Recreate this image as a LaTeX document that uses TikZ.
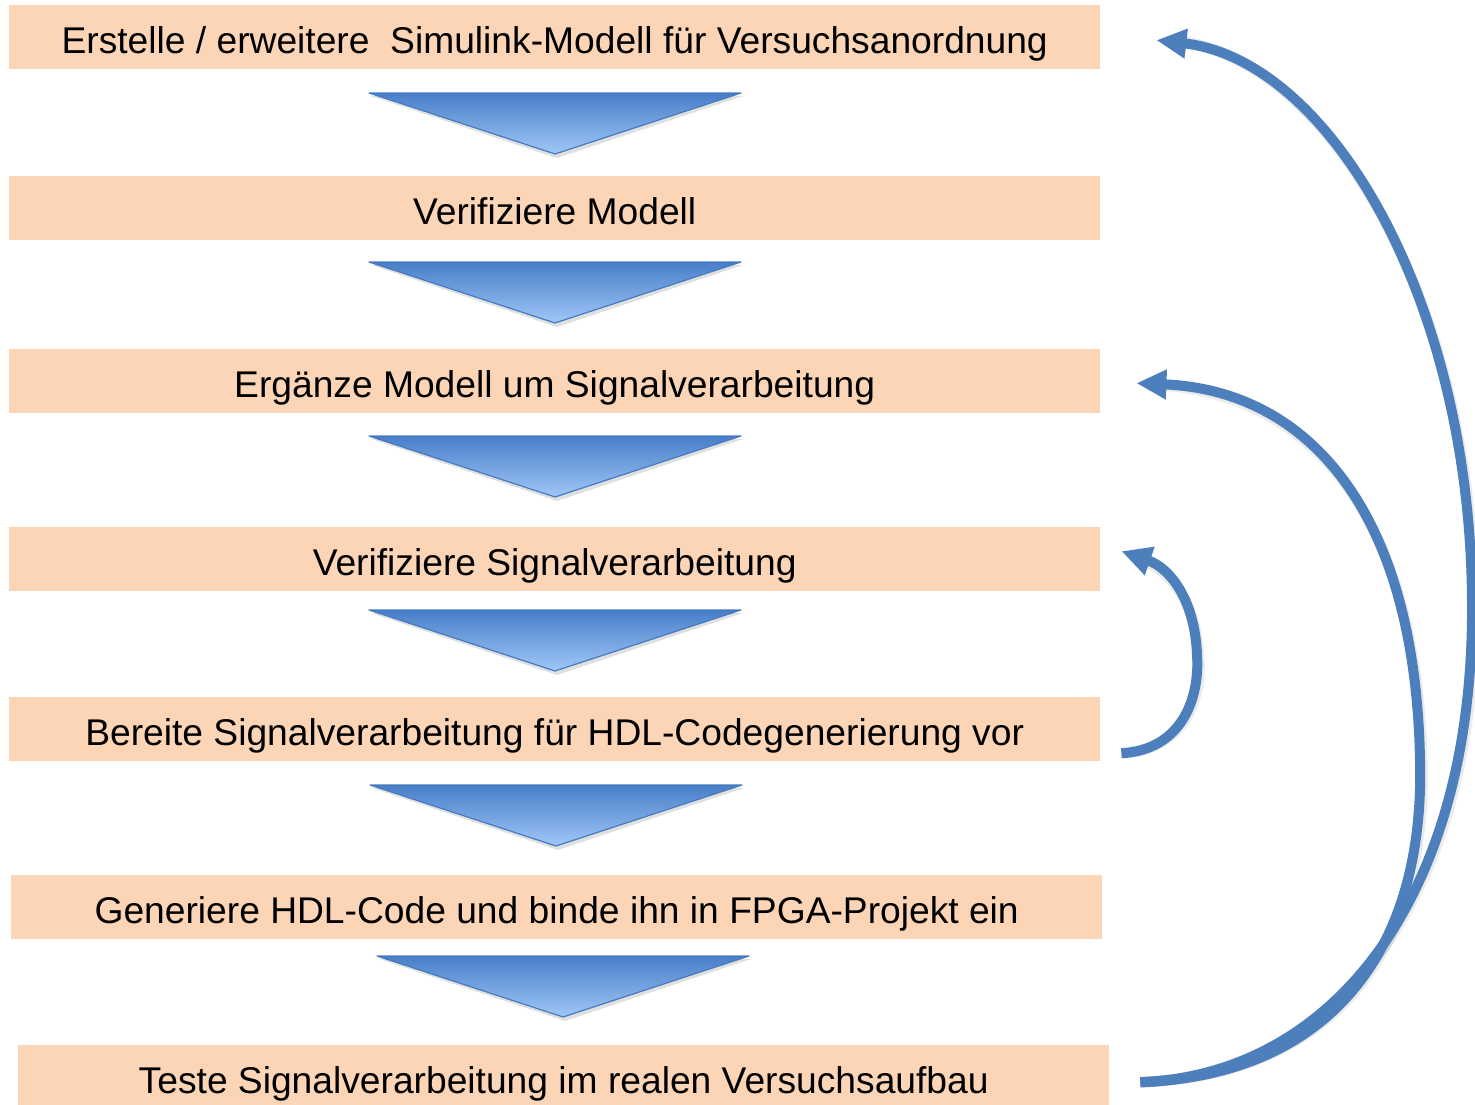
\documentclass[tikz,border=0pt]{standalone}
\usepackage{fontspec}
\setmainfont{Liberation Sans}
\usetikzlibrary{arrows.meta,calc}

\definecolor{boxfill}{RGB}{251,213,181}
\definecolor{loopblue}{RGB}{76,127,188}
\definecolor{tritop}{RGB}{72,126,200}
\definecolor{tribot}{RGB}{160,199,248}
\definecolor{triedge}{RGB}{70,122,190}

% downward wedge between two process steps: #1 = centre x, #2 = top y
\newcommand\flowwedge[2]{%
  \fill[black,opacity=0.12] (#1-184,#2+3) -- (#1+188,#2+3) -- (#1+2,#2+65) -- cycle;
  \shade[top color=tritop,bottom color=tribot,draw=triedge,line width=1.2pt,line join=round]
    (#1-186,#2) -- (#1+186,#2) -- (#1,#2+61) -- cycle;
}

\begin{document}
\begin{tikzpicture}[x=1pt,y=-1pt,
  stepbox/.style={fill=boxfill,draw=none,minimum width=1091pt,minimum height=64pt,
    inner sep=0pt,anchor=north west,text height=40pt,text depth=8pt,
    font=\fontsize{37.2}{42}\selectfont},
  loop/.style={draw=loopblue,line width=10pt,
    -{Triangle[length=30pt,width=28pt]}},
  loopshadow/.style={draw=black,opacity=0.08,line width=11pt}]

\useasboundingbox (0,0) rectangle (1475,1104);
\fill[white] (0,0) rectangle (1475,1104);

% process steps
\node[stepbox] (s1) at (9,5)    {Erstelle / erweitere \ Simulink-Modell für Versuchsanordnung};
\node[stepbox] (s2) at (9,176)  {Verifiziere Modell};
\node[stepbox] (s3) at (9,349)  {Ergänze Modell um Signalverarbeitung};
\node[stepbox] (s4) at (9,527)  {Verifiziere Signalverarbeitung};
\node[stepbox] (s5) at (9,697)  {Bereite Signalverarbeitung für HDL-Codegenerierung vor};
\node[stepbox] (s6) at (11,875) {Generiere HDL-Code und binde ihn in FPGA-Projekt ein};
\node[stepbox] (s7) at (18,1045) {Teste Signalverarbeitung im realen Versuchsaufbau};

% wedges between the steps
\flowwedge{555}{93}
\flowwedge{555}{262}
\flowwedge{555}{436}
\flowwedge{555}{610}
\flowwedge{556}{785}
\flowwedge{563}{956}

% loop-back coordinates
\coordinate (testout) at ($(s7.east)+(31,5)$);
\coordinate (modelin) at ($(s1.east)+(56,3)$);
\coordinate (sigin)   at ($(s3.east)+(36,2)$);
\coordinate (prepout) at ($(s5.east)+(21,24)$);
\coordinate (verin)   at ($(s4.east)+(21,-8)$);

% soft shadows of the loops
\begin{scope}[shift={(2,4)}]
  \draw[loopshadow] (testout) .. controls +(190,-7) and (1475,900) .. (1472,600)
                    .. controls (1470,300) and (1330,60) .. ($(modelin)+(25,1)$);
  \draw[loopshadow] (testout) .. controls +(190,-7) and (1425,950) .. (1420,760)
                    .. controls (1415,500) and (1300,390) .. ($(sigin)+(25,2)$);
  \draw[loopshadow] (prepout) .. controls +(59,-3) and (1200,700) .. (1197,655)
                    .. controls (1195,600) and (1170,568) .. ($(verin)+(20,8)$);
\end{scope}

% loops back to earlier steps
\draw[loop] (testout) .. controls +(190,-7) and (1475,900) .. (1472,600)
            .. controls (1470,300) and (1330,60) .. (modelin);
\draw[loop] (testout) .. controls +(190,-7) and (1425,950) .. (1420,760)
            .. controls (1415,500) and (1300,390) .. (sigin);
\draw[loop] (prepout) .. controls +(59,-3) and (1200,700) .. (1197,655)
            .. controls (1195,600) and (1170,568) .. (verin);
\end{tikzpicture}
\end{document}
